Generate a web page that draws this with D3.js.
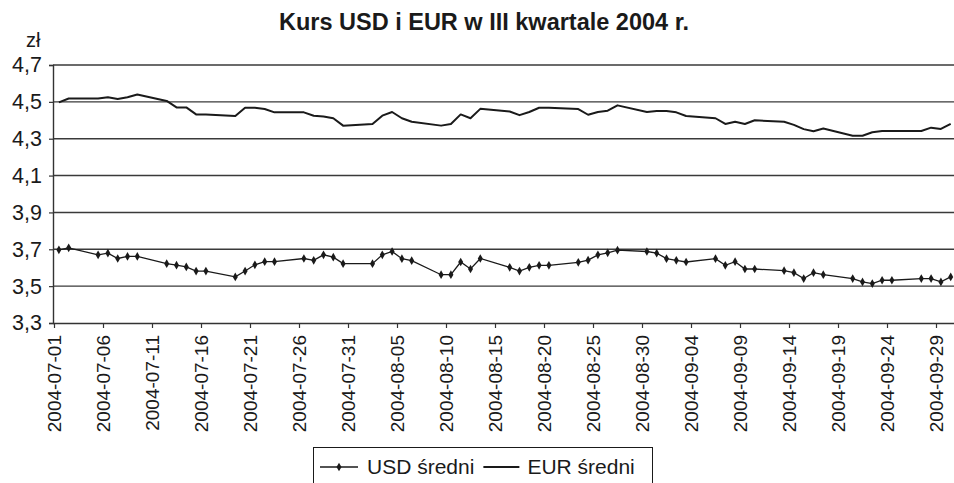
<!DOCTYPE html>
<html>
<head>
<meta charset="utf-8">
<script src="https://cdn.jsdelivr.net/npm/d3@7"></script>
<style>
  body { margin: 0; background: #fff; }
  svg { display: block; font-family: Arial, "Liberation Sans", sans-serif; }
</style>
</head>
<body>
<svg id="chart"></svg>
<script>
let w = 954;
let h = 483;

// trading days, III kwartał 2004
const dates = [
  '2004-07-01','2004-07-02','2004-07-05','2004-07-06','2004-07-07','2004-07-08','2004-07-09',
  '2004-07-12','2004-07-13','2004-07-14','2004-07-15','2004-07-16','2004-07-19','2004-07-20',
  '2004-07-21','2004-07-22','2004-07-23','2004-07-26','2004-07-27','2004-07-28','2004-07-29','2004-07-30',
  '2004-08-02','2004-08-03','2004-08-04','2004-08-05','2004-08-06','2004-08-09','2004-08-10',
  '2004-08-11','2004-08-12','2004-08-13','2004-08-16','2004-08-17','2004-08-18','2004-08-19',
  '2004-08-20','2004-08-23','2004-08-24','2004-08-25','2004-08-26','2004-08-27','2004-08-30','2004-08-31',
  '2004-09-01','2004-09-02','2004-09-03','2004-09-06','2004-09-07','2004-09-08','2004-09-09',
  '2004-09-10','2004-09-13','2004-09-14','2004-09-15','2004-09-16','2004-09-17','2004-09-20',
  '2004-09-21','2004-09-22','2004-09-23','2004-09-24','2004-09-27','2004-09-28','2004-09-29','2004-09-30'
];

const usd = [
  3.697, 3.708, 3.670, 3.679, 3.650, 3.661, 3.661, 3.622, 3.614, 3.604, 3.582, 3.582, 3.550, 3.582,
  3.616, 3.633, 3.633, 3.650, 3.640, 3.670, 3.657, 3.622,
  3.622, 3.670, 3.688, 3.649, 3.638, 3.562, 3.562, 3.631, 3.593, 3.650, 3.602, 3.582, 3.602, 3.613,
  3.613, 3.629, 3.641, 3.670, 3.681, 3.695, 3.688, 3.679,
  3.649, 3.640, 3.631, 3.649, 3.613, 3.633, 3.593, 3.593, 3.584, 3.573, 3.541, 3.573, 3.562, 3.541,
  3.523, 3.514, 3.532, 3.532, 3.541, 3.541, 3.523, 3.550
];

const eur = [
  4.497, 4.518, 4.518, 4.525, 4.516, 4.525, 4.540, 4.505, 4.470, 4.470, 4.432, 4.432, 4.423, 4.468,
  4.468, 4.461, 4.443, 4.443, 4.425, 4.420, 4.411, 4.371,
  4.380, 4.425, 4.445, 4.411, 4.392, 4.371, 4.380, 4.432, 4.411, 4.462, 4.448, 4.428, 4.445, 4.468,
  4.468, 4.461, 4.430, 4.445, 4.452, 4.481, 4.445, 4.450,
  4.450, 4.443, 4.423, 4.411, 4.380, 4.392, 4.380, 4.400, 4.392, 4.375, 4.352, 4.341, 4.355, 4.316,
  4.316, 4.335, 4.342, 4.342, 4.342, 4.360, 4.353, 4.380
];

const xTicks = [
  '2004-07-01','2004-07-06','2004-07-11','2004-07-16','2004-07-21','2004-07-26','2004-07-31',
  '2004-08-05','2004-08-10','2004-08-15','2004-08-20','2004-08-25','2004-08-30','2004-09-04',
  '2004-09-09','2004-09-14','2004-09-19','2004-09-24','2004-09-29'
];
const yTicks = [3.3, 3.5, 3.7, 3.9, 4.1, 4.3, 4.5, 4.7];

const seriesNames = ['USD średni', 'EUR średni'];

const parse = d3.utcParse('%Y-%m-%d');
const pl = d3.formatLocale({decimal: ',', thousands: ' ', grouping: [3], currency: ['', ' zł']});

const svg = d3.select('#chart')
  .attr('width', w)
  .attr('height', h)

const x = d3.scaleUtc()
  .domain([parse('2004-07-01'), parse('2004-10-01')])
  .range([54, 955.6])

const y = d3.scaleLinear()
  .domain([3.3, 4.7])
  .range([323, 65])

// points sit in the middle of the day slot
const px = d => x(d3.utcHour.offset(parse(d), 12));

// title
svg.append('text')
  .attr('x', 484)
  .attr('y', 30)
  .attr('text-anchor', 'middle')
  .style('font-weight', 'bold')
  .style('font-size', '23.5px')
  .attr('fill', '#1a1a1a')
  .text('Kurs USD i EUR w III kwartale 2004 r.')

svg.append('text')
  .attr('x', 26)
  .attr('y', 47)
  .style('font-size', '20px')
  .attr('fill', '#1a1a1a')
  .text('zł')

// grid
svg.append('g')
  .selectAll('line')
  .data(yTicks.slice(1))
  .enter()
  .append('line')
  .attr('x1', 53)
  .attr('x2', w)
  .attr('y1', d => y(d))
  .attr('y2', d => y(d))
  .attr('stroke', '#3a3a3a')
  .attr('stroke-width', 1.4)

// y axis
const yAxis = d3.axisLeft(y)
  .tickValues(yTicks)
  .tickFormat(pl.format('.1f'))
  .tickSize(4)
  .tickPadding(7)

const gy = svg.append('g')
  .attr('transform', 'translate(53,0)')
  .call(yAxis)
gy.select('.domain').attr('stroke', '#333').attr('stroke-width', 1.4)
gy.selectAll('.tick line').attr('stroke', '#333').attr('stroke-width', 1.2)
gy.selectAll('.tick text')
  .style('font-size', '21.5px')
  .attr('fill', '#1a1a1a')
  .attr('font-family', null)

// x axis
const xAxis = d3.axisBottom(x)
  .tickValues(xTicks.map(parse))
  .tickFormat(d3.utcFormat('%Y-%m-%d'))
  .tickSize(5)
  .tickSizeOuter(0)

const gx = svg.append('g')
  .attr('transform', 'translate(0,323)')
  .call(xAxis)
gx.select('.domain').attr('stroke', '#333').attr('stroke-width', 1.4).attr('d', `M53,0.5H${w}`)
gx.selectAll('.tick line').attr('stroke', '#333').attr('stroke-width', 1.2)
gx.selectAll('.tick text')
  .style('font-size', '19px')
  .attr('fill', '#1a1a1a')
  .attr('font-family', null)
  .attr('text-anchor', 'end')
  .attr('transform', 'rotate(-90)')
  .attr('x', -12)
  .attr('y', 0)
  .attr('dy', '0.35em')
  .attr('dx', 0)

// lines
const line = d3.line()
  .x((d, i) => px(dates[i]))
  .y(d => y(d))

svg.append('path')
  .datum(eur)
  .attr('d', line)
  .attr('fill', 'none')
  .attr('stroke', '#1a1a1a')
  .attr('stroke-width', 2)
  .attr('stroke-linejoin', 'round')

svg.append('path')
  .datum(usd)
  .attr('d', line)
  .attr('fill', 'none')
  .attr('stroke', '#1a1a1a')
  .attr('stroke-width', 1.3)

const marker = d3.symbol().type(d3.symbolDiamond).size(22);

svg.append('g')
  .selectAll('path')
  .data(usd)
  .enter()
  .append('path')
  .attr('d', marker)
  .attr('transform', (d, i) => `translate(${px(dates[i])},${y(d)})`)
  .attr('fill', '#1a1a1a')

// legend
const legend = svg.append('g')

legend.append('rect')
  .attr('x', 313.5)
  .attr('y', 447.5)
  .attr('width', 339)
  .attr('height', 45)
  .attr('fill', 'none')
  .attr('stroke', '#1a1a1a')
  .attr('stroke-width', 1)

legend.append('line')
  .attr('x1', 320).attr('x2', 358)
  .attr('y1', 467).attr('y2', 467)
  .attr('stroke', '#1a1a1a').attr('stroke-width', 1.3)
legend.append('path')
  .attr('d', marker)
  .attr('transform', 'translate(339,467)')
  .attr('fill', '#1a1a1a')

const t1 = legend.append('text')
  .attr('x', 367)
  .attr('y', 474)
  .style('font-size', '21px')
  .attr('fill', '#1a1a1a')
  .text(seriesNames[0])

const end1 = 367 + t1.node().getComputedTextLength();

legend.append('line')
  .attr('x1', end1 + 9).attr('x2', end1 + 45)
  .attr('y1', 467).attr('y2', 467)
  .attr('stroke', '#1a1a1a').attr('stroke-width', 2)

legend.append('text')
  .attr('x', end1 + 53)
  .attr('y', 474)
  .style('font-size', '21px')
  .attr('fill', '#1a1a1a')
  .text(seriesNames[1])
</script>
</body>
</html>
